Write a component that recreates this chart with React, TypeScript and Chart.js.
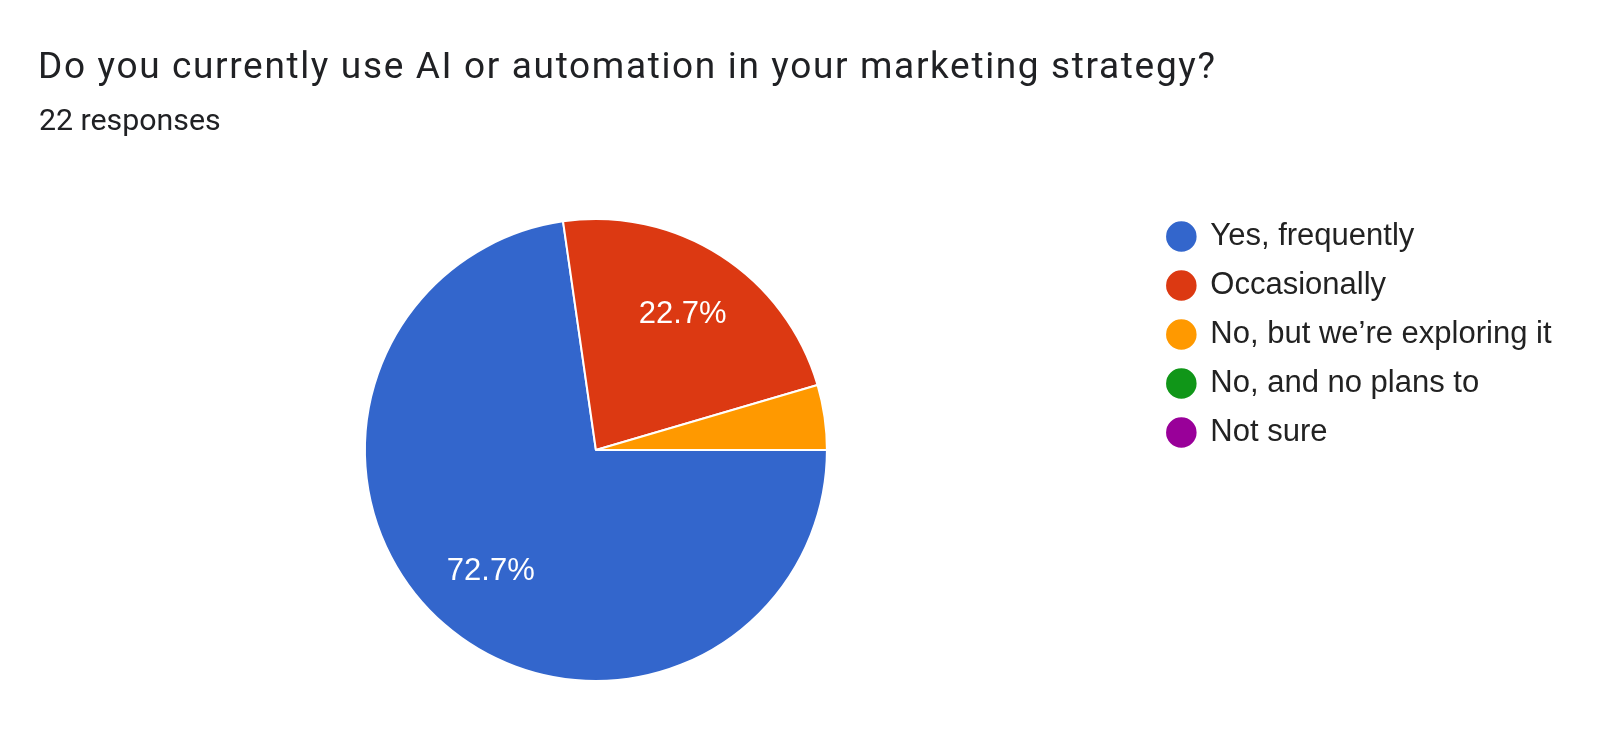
import { useEffect, useRef } from "react"
import { Chart, registerables, Plugin } from "chart.js"

Chart.register(...registerables)

const TITLE = "Do you currently use AI or automation in your marketing strategy?"
const SUBTITLE = "22 responses"

const categories = [
  "Yes, frequently",
  "Occasionally",
  "No, but we’re exploring it",
  "No, and no plans to",
  "Not sure",
]
const responses = [16, 5, 1, 0, 0]
const sliceColors = ["#3366cc", "#dc3912", "#ff9900", "#109618", "#990099"]

// draws the percentage inside each big enough slice
const sliceLabels: Plugin<"pie"> = {
  id: "sliceLabels",
  afterDatasetsDraw(chart) {
    const { ctx } = chart
    const meta = chart.getDatasetMeta(0)
    const values = chart.data.datasets[0].data as number[]
    const total = values.reduce((a, b) => a + b, 0)
    ctx.save()
    ctx.fillStyle = "#ffffff"
    ctx.font = "31px 'Liberation Sans', Arial, sans-serif"
    ctx.textAlign = "center"
    ctx.textBaseline = "middle"
    meta.data.forEach((arc: any, i) => {
      const share = values[i] / total
      if (share < 0.05) return
      const mid = (arc.startAngle + arc.endAngle) / 2
      const r = arc.outerRadius * 0.695
      ctx.fillText((share * 100).toFixed(1) + "%", arc.x + Math.cos(mid) * r, arc.y + Math.sin(mid) * r)
    })
    ctx.restore()
  },
}

export default function App() {
  const chartRef = useRef<HTMLCanvasElement>(null)
  const chartInstance = useRef<Chart | null>(null)

  useEffect(() => {
    if (!chartRef.current) return
    const ctx = chartRef.current.getContext("2d")
    if (!ctx) return

    if (chartInstance.current) {
      chartInstance.current.destroy()
    }

    chartInstance.current = new Chart(ctx, {
      type: "pie",
      data: {
        labels: categories,
        datasets: [
          {
            data: responses,
            backgroundColor: sliceColors,
            borderColor: "#ffffff",
            borderWidth: 2,
          },
        ],
      },
      options: {
        responsive: true,
        maintainAspectRatio: false,
        animation: false,
        rotation: 90,
        radius: 231,
        layout: {
          padding: { left: 42, right: 38.5, top: 203, bottom: 37 },
        },
        plugins: {
          legend: {
            position: "right",
            align: "start",
            labels: {
              usePointStyle: true,
              pointStyle: "circle",
              boxWidth: 27,
              boxHeight: 23,
              padding: 18,
              color: "#222222",
              font: { family: "'Liberation Sans', Arial, sans-serif", size: 31 },
            },
          },
          tooltip: { enabled: false },
        },
      },
      plugins: [sliceLabels],
    })

    return () => {
      if (chartInstance.current) {
        chartInstance.current.destroy()
        chartInstance.current = null
      }
    }
  }, [])

  return (
    <div style={{ position: "absolute", left: 0, top: 0, width: 1600, height: 734, background: "#ffffff" }}>
      <div
        style={{
          position: "absolute",
          left: 38,
          top: 47.2,
          font: "37px/37px Roboto, sans-serif",
          letterSpacing: "1.65px",
          color: "#202124",
          whiteSpace: "nowrap",
        }}
      >
        {TITLE}
      </div>
      <div
        style={{
          position: "absolute",
          left: 39,
          top: 105.3,
          font: "30.3px/30.3px Roboto, sans-serif",
          color: "#202124",
          whiteSpace: "nowrap",
        }}
      >
        {SUBTITLE}
      </div>
      <canvas ref={chartRef} />
    </div>
  )
}
